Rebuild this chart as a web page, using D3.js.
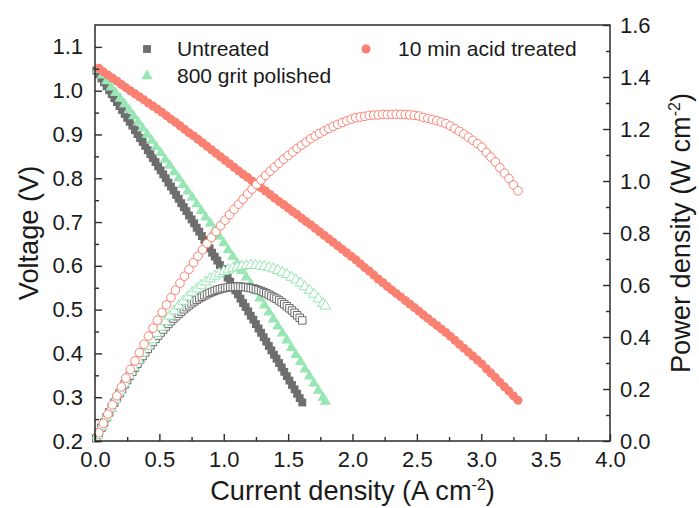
<!DOCTYPE html>
<html>
<head>
<meta charset="utf-8">
<script src="https://cdn.jsdelivr.net/npm/d3@7"></script>
<style>
  html, body { margin: 0; padding: 0; background: #fff; }
  svg { display: block; }
  text { font-family: "Liberation Sans", Arial, sans-serif; fill: #1a1a1a; }
</style>
</head>
<body>
<svg id="chart" width="699" height="508"></svg>
<script>
// ---------------- data ----------------
const seriesNames = ["Untreated", "800 grit polished", "10 min acid treated"];

const currentUntreated = [0.01,0.03,0.05,0.07,0.09,0.11,0.13,0.15,0.17,0.19,0.21,0.23,0.25,0.27,0.29,0.31,0.33,0.35,0.37,0.39,0.41,0.43,0.45,0.47,0.49,0.51,0.53,0.55,0.57,0.59,0.61,0.63,0.65,0.67,0.69,0.71,0.73,0.75,0.77,0.79,0.81,0.83,0.85,0.87,0.89,0.91,0.93,0.95,0.97,0.99,1.01,1.03,1.05,1.07,1.09,1.11,1.13,1.15,1.17,1.19,1.21,1.23,1.25,1.27,1.29,1.31,1.33,1.35,1.37,1.39,1.41,1.43,1.45,1.47,1.49,1.51,1.53,1.55,1.57,1.59,1.61];
const voltageUntreated = [1.046,1.037,1.028,1.019,1.010,1.001,0.992,0.983,0.974,0.965,0.956,0.947,0.938,0.929,0.920,0.910,0.901,0.892,0.883,0.874,0.864,0.855,0.846,0.837,0.827,0.818,0.809,0.800,0.790,0.781,0.772,0.762,0.753,0.743,0.734,0.725,0.715,0.706,0.697,0.687,0.678,0.668,0.659,0.649,0.640,0.630,0.621,0.612,0.602,0.593,0.583,0.573,0.564,0.554,0.544,0.535,0.525,0.515,0.506,0.496,0.486,0.477,0.467,0.457,0.447,0.437,0.427,0.417,0.407,0.397,0.388,0.378,0.368,0.358,0.348,0.338,0.328,0.318,0.308,0.298,0.288];

const currentPolished = [0.020,0.055,0.090,0.125,0.160,0.195,0.230,0.265,0.300,0.335,0.370,0.405,0.440,0.475,0.510,0.545,0.580,0.615,0.650,0.685,0.720,0.755,0.790,0.825,0.860,0.895,0.930,0.965,1.000,1.035,1.070,1.105,1.140,1.175,1.210,1.245,1.280,1.315,1.350,1.385,1.420,1.455,1.490,1.525,1.560,1.595,1.630,1.665,1.700,1.735,1.770,1.790];
const voltagePolished = [1.048,1.035,1.022,1.008,0.995,0.982,0.969,0.956,0.942,0.928,0.914,0.900,0.886,0.872,0.858,0.843,0.829,0.814,0.800,0.785,0.770,0.756,0.741,0.726,0.711,0.697,0.682,0.667,0.652,0.636,0.621,0.605,0.589,0.574,0.558,0.542,0.526,0.510,0.494,0.478,0.462,0.446,0.430,0.413,0.397,0.381,0.364,0.348,0.332,0.315,0.299,0.290];

const currentAcid = [0.030,0.065,0.100,0.135,0.170,0.205,0.240,0.275,0.310,0.345,0.380,0.415,0.450,0.485,0.520,0.555,0.590,0.625,0.660,0.695,0.730,0.765,0.800,0.835,0.870,0.905,0.940,0.975,1.010,1.045,1.080,1.115,1.150,1.185,1.220,1.255,1.290,1.325,1.360,1.395,1.430,1.465,1.500,1.535,1.570,1.605,1.640,1.675,1.710,1.745,1.780,1.815,1.850,1.885,1.920,1.955,1.990,2.025,2.060,2.095,2.130,2.165,2.200,2.235,2.270,2.305,2.340,2.375,2.410,2.445,2.480,2.515,2.550,2.585,2.620,2.655,2.690,2.725,2.760,2.795,2.830,2.865,2.900,2.935,2.970,3.005,3.040,3.075,3.110,3.145,3.180,3.215,3.250,3.285];
const voltageAcid = [1.051,1.043,1.036,1.029,1.022,1.014,1.007,1.000,0.993,0.986,0.979,0.972,0.965,0.958,0.951,0.943,0.935,0.928,0.920,0.912,0.904,0.897,0.889,0.881,0.873,0.865,0.857,0.849,0.841,0.833,0.825,0.817,0.809,0.802,0.794,0.786,0.778,0.771,0.763,0.755,0.747,0.740,0.732,0.724,0.717,0.709,0.701,0.694,0.686,0.678,0.670,0.662,0.654,0.646,0.638,0.630,0.622,0.614,0.605,0.596,0.588,0.579,0.570,0.562,0.553,0.545,0.537,0.529,0.521,0.513,0.505,0.497,0.488,0.480,0.472,0.464,0.456,0.448,0.439,0.430,0.421,0.412,0.403,0.394,0.385,0.376,0.365,0.355,0.345,0.334,0.324,0.314,0.303,0.293];

const xTicks = [0, 0.5, 1.0, 1.5, 2.0, 2.5, 3.0, 3.5, 4.0];
const xMinorTicks = [0.25, 0.75, 1.25, 1.75, 2.25, 2.75, 3.25, 3.75];
const vTicks = [0.2, 0.3, 0.4, 0.5, 0.6, 0.7, 0.8, 0.9, 1.0, 1.1];
const vMinorTicks = [0.25, 0.35, 0.45, 0.55, 0.65, 0.75, 0.85, 0.95, 1.05];
const pTicks = [0.0, 0.2, 0.4, 0.6, 0.8, 1.0, 1.2, 1.4, 1.6];
const pMinorTicks = [0.1, 0.3, 0.5, 0.7, 0.9, 1.1, 1.3, 1.5];

// ---------------- layout ----------------
const L = 95, R = 610, T = 25, B = 441;
const colors = { gray: "#6e6e6e", grayLine: "#6a6a6a", green: "#98e6b4", red: "#fa8072" };
const font = '"Liberation Sans", Arial, sans-serif';

const svg = d3.select("#chart");
const x = d3.scaleLinear().domain([0, 4]).range([L, R]);
const yV = d3.scaleLinear().domain([0.2, 1.15]).range([B, T]);
const yP = d3.scaleLinear().domain([0, 1.6]).range([B, T]);

function zip(I, V) { return I.map((c, i) => ({ i: c, v: V[i], p: c * V[i] })); }
const dUntreated = zip(currentUntreated, voltageUntreated);
const dPolished = zip(currentPolished, voltagePolished);
const dAcid = zip(currentAcid, voltageAcid);

const sym = {
  square: d3.symbol().type(d3.symbolSquare).size(62)(),
  triangle: d3.symbol().type(d3.symbolTriangle).size(54)(),
  circle: d3.symbol().type(d3.symbolCircle).size(64)(),
  squareO: d3.symbol().type(d3.symbolSquare).size(56)(),
  triangleO: d3.symbol().type(d3.symbolTriangle).size(48)(),
  circleO: d3.symbol().type(d3.symbolCircle).size(58)()
};

const plot = svg.append("g");

function drawFilled(data, shape, color) {
  plot.append("g").selectAll("path").data(data).join("path")
    .attr("d", shape)
    .attr("transform", d => `translate(${x(d.i)},${yV(d.v)})`)
    .attr("fill", color);
}
function drawOpen(data, shape, color) {
  plot.append("g").selectAll("path").data(data).join("path")
    .attr("d", shape)
    .attr("transform", d => `translate(${x(d.i)},${yP(d.p)})`)
    .attr("fill", "#fff")
    .attr("stroke", color)
    .attr("stroke-width", 1);
}

// voltage layer
drawFilled(dUntreated, sym.square, colors.gray);
drawFilled(dPolished, sym.triangle, colors.green);
drawFilled(dAcid, sym.circle, colors.red);
// power layer
drawOpen(dUntreated, sym.squareO, colors.grayLine);
drawOpen(dPolished, sym.triangleO, colors.green);
drawOpen(dAcid, sym.circleO, colors.red);

// ---------------- axes ----------------
const axisColor = "#2b2b2b";
function styleAxis(g) {
  g.select(".domain").remove();
  g.selectAll("line").attr("stroke", axisColor).attr("stroke-width", 1.4);
  g.selectAll("text").attr("font-family", font).attr("font-size", 22).attr("fill", "#1a1a1a");
}
const fmt = d3.format(".1f");

svg.append("g").attr("transform", `translate(0,${B})`)
  .call(d3.axisBottom(x).tickValues(xTicks).tickFormat(fmt).tickSizeInner(-7).tickSizeOuter(0).tickPadding(10))
  .call(styleAxis);
svg.append("g").attr("transform", `translate(0,${B})`)
  .call(d3.axisBottom(x).tickValues(xMinorTicks).tickFormat("").tickSizeInner(-4).tickSizeOuter(0))
  .call(styleAxis);

svg.append("g").attr("transform", `translate(${L},0)`)
  .call(d3.axisLeft(yV).tickValues(vTicks).tickFormat(fmt).tickSizeInner(-7).tickSizeOuter(0).tickPadding(12))
  .call(styleAxis);
svg.append("g").attr("transform", `translate(${L},0)`)
  .call(d3.axisLeft(yV).tickValues(vMinorTicks).tickFormat("").tickSizeInner(-4).tickSizeOuter(0))
  .call(styleAxis);

svg.append("g").attr("transform", `translate(${R},0)`)
  .call(d3.axisRight(yP).tickValues(pTicks).tickFormat(fmt).tickSizeInner(-7).tickSizeOuter(0).tickPadding(10))
  .call(styleAxis);
svg.append("g").attr("transform", `translate(${R},0)`)
  .call(d3.axisRight(yP).tickValues(pMinorTicks).tickFormat("").tickSizeInner(-4).tickSizeOuter(0))
  .call(styleAxis);

// frame
svg.append("rect").attr("x", L).attr("y", T).attr("width", R - L).attr("height", B - T)
  .attr("fill", "none").attr("stroke", axisColor).attr("stroke-width", 1.5);

// ---------------- titles ----------------
const titleSize = 27.2;
const xt = svg.append("text").attr("x", (L + R) / 2).attr("y", 500)
  .attr("text-anchor", "middle").attr("font-size", titleSize);
xt.append("tspan").text("Current density (A cm");
xt.append("tspan").attr("font-size", 16).attr("dy", -10).text("-2");
xt.append("tspan").attr("dy", 10).text(")");

svg.append("text").attr("transform", `translate(38,${(T + B) / 2}) rotate(-90)`)
  .attr("text-anchor", "middle").attr("font-size", titleSize).text("Voltage (V)");

const yt = svg.append("text").attr("transform", `translate(690,${(T + B) / 2}) rotate(-90)`)
  .attr("text-anchor", "middle").attr("font-size", titleSize);
yt.append("tspan").text("Power density (W cm");
yt.append("tspan").attr("font-size", 16).attr("dy", -10).text("-2");
yt.append("tspan").attr("dy", 10).text(")");

// ---------------- legend ----------------
const legend = [
  { name: seriesNames[0], shape: sym.square, color: colors.gray, mx: 147, my: 49, tx: 177, ty: 56 },
  { name: seriesNames[1], shape: sym.triangle, color: colors.green, mx: 147, my: 76, tx: 177, ty: 83 },
  { name: seriesNames[2], shape: sym.circle, color: colors.red, mx: 366, my: 49, tx: 398, ty: 56 }
];
const lg = svg.append("g");
lg.selectAll("path").data(legend).join("path")
  .attr("d", d => d.shape).attr("fill", d => d.color)
  .attr("transform", d => `translate(${d.mx},${d.my})`);
lg.selectAll("text").data(legend).join("text")
  .attr("x", d => d.tx).attr("y", d => d.ty).attr("font-size", 21).text(d => d.name);
</script>
</body>
</html>
